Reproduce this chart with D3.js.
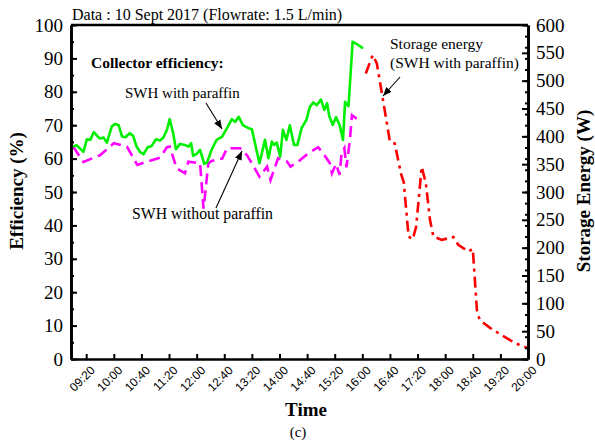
<!DOCTYPE html>
<html>
<head>
<meta charset="utf-8">
<script src="https://cdn.jsdelivr.net/npm/d3@7"></script>
<style>
  body { margin: 0; background: #fff; }
  text { font-family: "Liberation Serif", "Times New Roman", serif; fill: #000; }
  .xtick text { font-family: "Liberation Sans", Arial, sans-serif; }
</style>
</head>
<body>
<div class="chart"></div>
<script>
// collector efficiency, SWH with paraffin (%)
var withTimes = ["09:01","09:06","09:16","09:21","09:26","09:31","09:36","09:40","09:45","09:50","09:57","10:02","10:07","10:12","10:17","10:23","10:28","10:33","10:38","10:43","10:49","10:55","11:01","11:07","11:12","11:17","11:21","11:26","11:30","11:36","11:43","11:48","11:52","11:55","12:00","12:05","12:11","12:15","12:22","12:29","12:37","12:44","12:51","12:56","13:01","13:07","13:15","13:20","13:31","13:39","13:44","13:49","13:52","13:56","14:01","14:05","14:10","14:15","14:21","14:26","14:32","14:39","14:44","14:49","14:54","15:00","15:05","15:09","15:12","15:17","15:22","15:27","15:32","15:35","15:40","15:46","15:52","16:01"];
var withEff = [63.6,64,62,65.8,65.6,67.9,66.8,66,66.3,64.8,69.6,70.4,70,66.6,66.4,67.6,66.8,63.6,62,61.3,63.4,63.8,65.8,65.4,66.4,68.6,71.8,67.6,62.8,64.4,64.1,63.6,64.6,60.8,61.4,62.6,58.4,58.8,62.8,65.6,66.6,69.1,71.8,71,72.5,70,69.1,68.8,58.6,65.6,60.1,65.1,64.1,64.8,60.6,68.6,65.6,70,64.1,64.1,69.1,71.6,75.5,76.8,76,77.7,74.6,76.6,72.8,70.1,72.4,70.1,65.6,77,75.7,95,94.3,93];

// collector efficiency, SWH without paraffin (%)
var withoutTimes = ["09:01","09:16","09:40","10:00","10:19","10:34","10:48","11:07","11:17","11:21","11:31","11:43","11:48","12:05","12:10","12:17","12:22","12:37","12:44","13:03","13:13","13:20","13:31","13:42","13:47","13:58","14:11","14:16","14:27","14:42","14:56","15:06","15:13","15:16","15:22","15:27","15:30","15:34","15:37","15:42","15:45","15:54"];
var withoutEff = [63.6,59,61,64.6,63.6,58.1,59.1,60.3,63.4,63.6,57.1,55.6,59.1,58.6,45,58.6,59.3,60,63.1,63.1,61,58.6,54.6,57.6,53.6,60.1,59.1,57.6,59.1,61.6,63.4,60.8,58.6,55.6,58.4,55.1,61.6,63.1,57.4,65.6,73,71.6];

// storage energy, SWH with paraffin (W)
var storageTimes = ["16:05","16:15","16:21","16:30","16:40","16:47","16:56","17:00","17:07","17:13","17:18","17:26","17:32","17:38","17:43","17:55","18:12","18:19","18:34","18:40","18:46","18:50","19:05","19:19","19:34","19:48","19:59"];
var storageW = [513,546,531,465,390,387,333,318,220,215,238,345,316,250,220,214,219,205,193,198,88,70,56,45,34,25,20];

var xTickLabels = ["09:20","10:00","10:40","11:20","12:00","12:40","13:20","14:00","14:40","15:20","16:00","16:40","17:20","18:00","18:40","19:20","20:00"];
var effTicks = [0,10,20,30,40,50,60,70,80,90,100];
var energyTicks = [0,50,100,150,200,250,300,350,400,450,500,550,600];

var svgWidth = 595, svgHeight = 447;
var margin = { top: 25, right: 67, bottom: 88, left: 71 };
var width = svgWidth - margin.left - margin.right;
var height = svgHeight - margin.top - margin.bottom;

var parseTime = d3.timeParse("%H:%M");

var svg = d3.select(".chart").append("svg")
  .attr("width", svgWidth)
  .attr("height", svgHeight);

var defs = svg.append("defs");
defs.append("marker")
  .attr("id", "arrow")
  .attr("viewBox", "0 0 10 10")
  .attr("refX", 10).attr("refY", 5)
  .attr("markerWidth", 9).attr("markerHeight", 9)
  .attr("markerUnits", "userSpaceOnUse")
  .attr("orient", "auto")
  .append("path").attr("d", "M0,1 L10,5 L0,9 Z").attr("fill", "#000");

var chartGroup = svg.append("g")
  .attr("transform", `translate(${margin.left}, ${margin.top})`);

// scales
var x = d3.scaleTime()
  .domain([parseTime("08:58"), parseTime("20:00")])
  .range([0, width]);
var yLeft = d3.scaleLinear().domain([0, 100]).range([height, 0]);
var yRight = d3.scaleLinear().domain([0, 600]).range([height, 0]);

// lines
var effLine = d3.line()
  .x(d => x(d.t))
  .y(d => yLeft(d.v));
var energyLine = d3.line()
  .x(d => x(d.t))
  .y(d => yRight(d.v));

var withData = withTimes.map((t, i) => ({ t: parseTime(t), v: withEff[i] }));
var withoutData = withoutTimes.map((t, i) => ({ t: parseTime(t), v: withoutEff[i] }));
var storageData = storageTimes.map((t, i) => ({ t: parseTime(t), v: storageW[i] }));

chartGroup.append("path")
  .datum(withoutData)
  .attr("d", effLine)
  .attr("fill", "none")
  .attr("stroke", "#ff00ff")
  .attr("stroke-width", 2.6)
  .attr("stroke-dasharray", "11,6");

chartGroup.append("path")
  .datum(withData)
  .attr("d", effLine)
  .attr("fill", "none")
  .attr("stroke", "#00ee00")
  .attr("stroke-width", 2.6)
  .attr("stroke-linejoin", "round");

chartGroup.append("path")
  .datum(storageData)
  .attr("d", energyLine)
  .attr("fill", "none")
  .attr("stroke", "#ff0000")
  .attr("stroke-width", 2.6)
  .attr("stroke-dasharray", "11,5,3,5");

// axes
var xAxis = d3.axisBottom(x)
  .tickValues(xTickLabels.map(parseTime))
  .tickFormat(d3.timeFormat("%H:%M"))
  .tickSizeInner(-5).tickSizeOuter(0).tickPadding(0);

var gx = chartGroup.append("g")
  .attr("class", "xtick")
  .attr("transform", `translate(0, ${height})`)
  .call(xAxis);
gx.selectAll("text")
  .attr("font-size", 12)
  .attr("text-anchor", "end")
  .attr("y", 0)
  .attr("dy", "0.35em")
  .attr("transform", "translate(6,9) rotate(-45)");

var leftMinor = d3.axisLeft(yLeft).ticks(20).tickFormat("").tickSizeInner(-3).tickSizeOuter(0);
chartGroup.append("g").call(leftMinor);
var leftAxis = d3.axisLeft(yLeft).tickValues(effTicks)
  .tickSizeInner(-6).tickSizeOuter(0).tickPadding(8);
var gl = chartGroup.append("g").call(leftAxis);
gl.selectAll("text").attr("font-size", 19);

var rightMinor = d3.axisRight(yRight).ticks(24).tickFormat("").tickSizeInner(-3).tickSizeOuter(0);
chartGroup.append("g").attr("transform", `translate(${width}, 0)`).call(rightMinor);
var rightAxis = d3.axisRight(yRight).tickValues(energyTicks)
  .tickSizeInner(-6).tickSizeOuter(0).tickPadding(8);
var gr = chartGroup.append("g").attr("transform", `translate(${width}, 0)`).call(rightAxis);
gr.selectAll("text").attr("font-size", 19);

chartGroup.selectAll(".domain").attr("stroke-width", 2.6);
chartGroup.selectAll(".tick line").attr("stroke-width", 2);

// top frame line
chartGroup.append("line")
  .attr("x1", 0).attr("x2", width)
  .attr("y1", 0).attr("y2", 0)
  .attr("stroke", "#000").attr("stroke-width", 2.6);

// title and labels
svg.append("text")
  .attr("x", 72).attr("y", 20)
  .attr("font-size", 16)
  .text("Data : 10 Sept 2017 (Flowrate: 1.5 L/min)");

svg.append("text")
  .attr("transform", "translate(23, 191) rotate(-90)")
  .attr("text-anchor", "middle")
  .attr("font-size", 19).attr("font-weight", "bold")
  .text("Efficiency (%)");

svg.append("text")
  .attr("transform", "translate(590, 191) rotate(-90)")
  .attr("text-anchor", "middle")
  .attr("font-size", 19).attr("font-weight", "bold")
  .text("Storage Energy (W)");

svg.append("text")
  .attr("x", 306).attr("y", 416)
  .attr("text-anchor", "middle")
  .attr("font-size", 19).attr("font-weight", "bold")
  .text("Time");

svg.append("text")
  .attr("x", 298).attr("y", 437)
  .attr("text-anchor", "middle")
  .attr("font-size", 15)
  .text("(c)");

// annotations
svg.append("text")
  .attr("x", 91).attr("y", 68)
  .attr("font-size", 15.5).attr("font-weight", "bold")
  .text("Collector efficiency:");

svg.append("text")
  .attr("x", 125).attr("y", 98)
  .attr("font-size", 15)
  .text("SWH with paraffin");

svg.append("text")
  .attr("x", 132).attr("y", 219)
  .attr("font-size", 15.8)
  .text("SWH without paraffin");

svg.append("text")
  .attr("x", 390).attr("y", 49)
  .attr("font-size", 15.5)
  .text("Storage energy");

svg.append("text")
  .attr("x", 390).attr("y", 68)
  .attr("font-size", 15.5)
  .text("(SWH with paraffin)");

var arrows = [
  [206, 103, 222, 129],
  [216, 208, 242, 151],
  [400, 77, 383, 96]
];
svg.selectAll(".arrow")
  .data(arrows)
  .enter()
  .append("line")
  .attr("class", "arrow")
  .attr("x1", d => d[0]).attr("y1", d => d[1])
  .attr("x2", d => d[2]).attr("y2", d => d[3])
  .attr("stroke", "#000").attr("stroke-width", 1.1)
  .attr("marker-end", "url(#arrow)");
</script>
</body>
</html>
